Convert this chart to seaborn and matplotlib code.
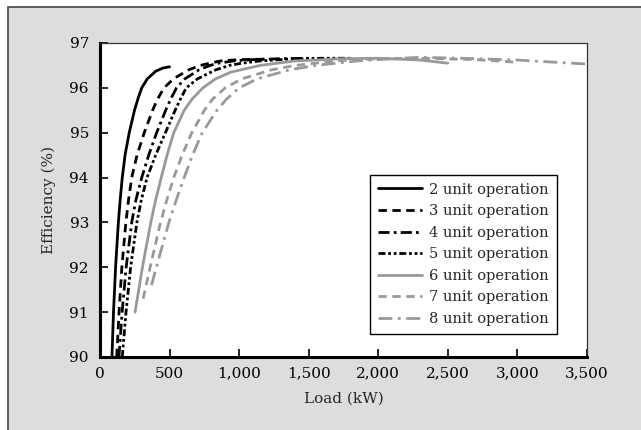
import matplotlib
matplotlib.use("Agg")
import matplotlib.pyplot as plt
import matplotlib.patches as mpatches
from matplotlib.ticker import FuncFormatter
import seaborn as sns
import pandas as pd

# data (load in kW, efficiency in %)
load_2 = [86, 97, 112, 132, 145, 160, 180, 210, 248, 272, 300, 340, 400, 450, 500]
eff_2 = [90, 91, 92, 93, 93.5, 94, 94.5, 95, 95.5, 95.75, 96, 96.2, 96.37, 96.44, 96.47]

load_3 = [120, 137, 157, 186, 205, 228, 266, 318, 378, 414, 460, 528, 636, 720, 864, 1000, 1200]
eff_3 = [90, 91, 92, 93, 93.5, 94, 94.5, 95, 95.5, 95.75, 96, 96.2, 96.4, 96.5, 96.6, 96.63, 96.64]

load_4 = [136, 159, 188, 228, 258, 300, 350, 407, 472, 508, 550, 610, 710, 790, 850, 960, 1100, 1300, 1500]
eff_4 = [90, 91, 92, 93, 93.5, 94, 94.5, 95, 95.5, 95.75, 96, 96.2, 96.4, 96.5, 96.55, 96.6, 96.63, 96.65, 96.66]

load_5 = [160, 187, 220, 265, 297, 338, 400, 470, 540, 578, 620, 700, 830, 930, 1020, 1150, 1350, 1600, 1800]
eff_5 = [90, 91, 92, 93, 93.5, 94, 94.5, 95, 95.5, 95.75, 96, 96.2, 96.4, 96.5, 96.55, 96.6, 96.64, 96.66, 96.66]

load_6 = [252, 305, 365, 400, 440, 482, 530, 605, 662, 740, 830, 940, 1150, 1400, 1750, 2000, 2300, 2500]
eff_6 = [91, 92, 93, 93.5, 94, 94.5, 95, 95.5, 95.75, 96, 96.2, 96.35, 96.5, 96.6, 96.65, 96.66, 96.62, 96.55]

load_7 = [310, 360, 435, 480, 530, 590, 660, 750, 810, 900, 1020, 1230, 1400, 1700, 2000, 2300, 2700, 3000]
eff_7 = [91.3, 92, 93, 93.5, 94, 94.5, 95, 95.5, 95.75, 96, 96.2, 96.4, 96.5, 96.6, 96.65, 96.66, 96.63, 96.57]

load_8 = [370, 405, 495, 548, 605, 665, 735, 840, 910, 1000, 1130, 1360, 1550, 1850, 2100, 2300, 2600, 3000, 3500]
eff_8 = [91.6, 92, 93, 93.5, 94, 94.5, 95, 95.5, 95.75, 96, 96.2, 96.4, 96.5, 96.6, 96.65, 96.68, 96.66, 96.62, 96.53]

labels = ["2 unit operation", "3 unit operation", "4 unit operation", "5 unit operation",
          "6 unit operation", "7 unit operation", "8 unit operation"]

sns.set_style("ticks")
plt.rcParams["font.family"] = ["DejaVu Serif"]
plt.rcParams["font.size"] = 10.5

gray = "#999999"
styles = [
    ("black", "-"),
    ("black", (0, (3, 2))),
    ("black", (0, (4, 1.5, 1, 1.5))),
    ("black", (0, (2.5, 1, 1, 1, 1, 1))),
    (gray, "-"),
    (gray, (0, (3, 2))),
    (gray, (0, (5, 2, 1, 2))),
]

series = [(load_2, eff_2), (load_3, eff_3), (load_4, eff_4), (load_5, eff_5),
          (load_6, eff_6), (load_7, eff_7), (load_8, eff_8)]

fig = plt.figure(figsize=(6.41, 4.30), dpi=100)
fig.patch.set_facecolor("white")
# grey panel behind the chart
fig.patches.append(mpatches.Rectangle((8 / 641, -0.1), 1.1, 1.1 - 7 / 430, transform=fig.transFigure,
                                      facecolor="#dcdddd", edgecolor="#444444", lw=1.2, zorder=-5))
ax = fig.add_axes([100 / 641, 1 - 357 / 430, 487 / 641, 314 / 430])
ax.set_zorder(2)
ax.set_facecolor("white")

for (x, y), lab, (col, ls) in zip(series, labels, styles):
    df = pd.DataFrame({"load": x, "eff": y})
    sns.lineplot(data=df, x="load", y="eff", ax=ax, color=col, linestyle=ls,
                 linewidth=2.0, label=lab, sort=False)

ax.set_xlim(0, 3500)
ax.set_ylim(90, 97)
ax.set_xticks(range(0, 3501, 500))
ax.set_yticks(range(90, 98))
ax.xaxis.set_major_formatter(FuncFormatter(lambda v, p: f"{int(v):,}"))
ax.tick_params(direction="in", length=6, width=1.2, colors="black", labelsize=11)
ax.tick_params(axis="x", pad=7)
ax.tick_params(axis="y", pad=8)
ax.set_xlabel("Load (kW)", fontsize=11, labelpad=8)
ax.set_ylabel("Efficiency (%)", fontsize=11, labelpad=10)

for side in ["left", "bottom"]:
    ax.spines[side].set_linewidth(2.2)
    ax.spines[side].set_color("black")
for side in ["top", "right"]:
    ax.spines[side].set_visible(True)
    ax.spines[side].set_linewidth(0.9)
    ax.spines[side].set_color("#333333")

leg = ax.legend(loc="lower right", bbox_to_anchor=(0.938, 0.073), borderaxespad=0,
                frameon=True, fancybox=False, edgecolor="black", framealpha=1,
                fontsize=10.5, handlelength=3.0, handletextpad=0.5,
                labelspacing=0.52, borderpad=0.55)
leg.get_frame().set_linewidth(1.0)

fig.savefig("out.png", dpi=100, facecolor=fig.get_facecolor())
